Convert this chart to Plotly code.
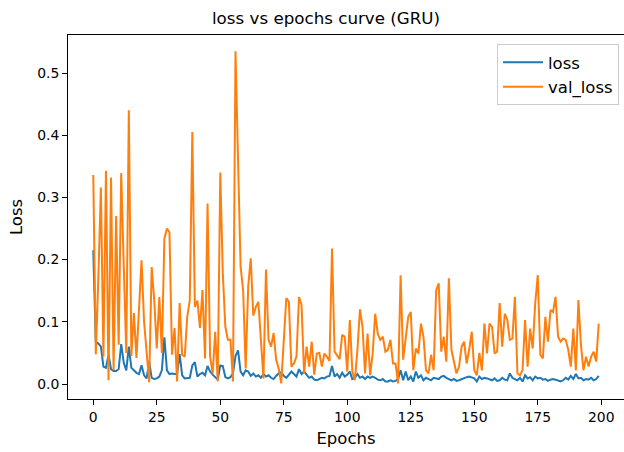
import plotly.graph_objects as go

epochs = list(range(200))

loss = [
    0.215, 0.068, 0.065, 0.060, 0.028, 0.026, 0.047, 0.024, 0.021, 0.021,
    0.024, 0.064, 0.034, 0.022, 0.060, 0.026, 0.022, 0.018, 0.016, 0.030,
    0.014, 0.009, 0.036, 0.010, 0.008, 0.009, 0.012, 0.022, 0.075, 0.022,
    0.016, 0.017, 0.016, 0.016, 0.048, 0.014, 0.009, 0.009, 0.010, 0.030,
    0.035, 0.012, 0.016, 0.018, 0.014, 0.029, 0.020, 0.015, 0.011, 0.007,
    0.030, 0.029, 0.011, 0.009, 0.011, 0.017, 0.045, 0.054, 0.020, 0.014,
    0.022, 0.020, 0.013, 0.017, 0.012, 0.014, 0.010, 0.016, 0.012, 0.014,
    0.010, 0.008, 0.013, 0.017, 0.019, 0.013, 0.010, 0.015, 0.020, 0.016,
    0.012, 0.024, 0.016, 0.020, 0.014, 0.010, 0.012, 0.007, 0.006, 0.008,
    0.010, 0.009, 0.012, 0.013, 0.029, 0.012, 0.016, 0.010, 0.018, 0.012,
    0.015, 0.020, 0.008, 0.010, 0.016, 0.010, 0.012, 0.008, 0.012, 0.010,
    0.012, 0.010, 0.007, 0.006, 0.008, 0.004, 0.004, 0.006, 0.004, 0.005,
    0.008, 0.022, 0.006, 0.020, 0.006, 0.012, 0.004, 0.020, 0.010, 0.014,
    0.006, 0.010, 0.008, 0.006, 0.010, 0.009, 0.008, 0.012, 0.013, 0.010,
    0.008, 0.006, 0.008, 0.005, 0.006, 0.008, 0.010, 0.011, 0.012, 0.010,
    0.009, 0.004, 0.012, 0.008, 0.010, 0.009, 0.008, 0.006, 0.009, 0.005,
    0.006, 0.010, 0.007, 0.006, 0.017, 0.010, 0.008, 0.006, 0.010, 0.004,
    0.014, 0.009, 0.011, 0.006, 0.012, 0.009, 0.010, 0.007, 0.008, 0.005,
    0.007, 0.008, 0.007, 0.005, 0.004, 0.006, 0.010, 0.007, 0.013, 0.008,
    0.016, 0.009, 0.010, 0.006, 0.008, 0.007, 0.010, 0.006, 0.008, 0.013,
]

val_loss = [
    0.336, 0.048, 0.170, 0.316, 0.044, 0.343, 0.006, 0.332, 0.022, 0.270,
    0.063, 0.339, 0.190, 0.050, 0.440, 0.045, 0.114, 0.042, 0.120, 0.199,
    0.100, 0.050, 0.003, 0.188, 0.135, 0.057, 0.140, 0.050, 0.234, 0.250,
    0.244, 0.047, 0.090, 0.004, 0.130, 0.047, 0.044, 0.108, 0.135, 0.405,
    0.124, 0.134, 0.090, 0.151, 0.041, 0.290, 0.044, 0.017, 0.084, 0.004,
    0.340, 0.178, 0.092, 0.071, 0.071, 0.004, 0.535, 0.360, 0.189, 0.151,
    0.025, 0.157, 0.202, 0.110, 0.124, 0.132, 0.070, 0.009, 0.184, 0.071,
    0.060, 0.082, 0.039, 0.025, 0.001, 0.070, 0.138, 0.132, 0.028, 0.033,
    0.044, 0.140, 0.127, 0.017, 0.060, 0.028, 0.068, 0.015, 0.049, 0.050,
    0.028, 0.049, 0.044, 0.037, 0.218, 0.052, 0.046, 0.040, 0.079, 0.076,
    0.020, 0.103, 0.020, 0.006, 0.055, 0.120, 0.092, 0.017, 0.081, 0.014,
    0.049, 0.113, 0.081, 0.071, 0.076, 0.052, 0.055, 0.071, 0.033, 0.033,
    0.001, 0.175, 0.039, 0.076, 0.108, 0.116, 0.022, 0.057, 0.049, 0.097,
    0.076, 0.022, 0.017, 0.047, 0.022, 0.151, 0.162, 0.052, 0.076, 0.036,
    0.170, 0.055, 0.033, 0.017, 0.028, 0.060, 0.068, 0.033, 0.055, 0.084,
    0.022, 0.014, 0.050, 0.022, 0.097, 0.049, 0.097, 0.092, 0.049, 0.052,
    0.130, 0.060, 0.113, 0.103, 0.071, 0.073, 0.140, 0.017, 0.014, 0.022,
    0.103, 0.028, 0.089, 0.057, 0.130, 0.175, 0.047, 0.041, 0.108, 0.068,
    0.119, 0.116, 0.140, 0.076, 0.068, 0.073, 0.071, 0.055, 0.028, 0.089,
    0.022, 0.135, 0.063, 0.022, 0.044, 0.028, 0.044, 0.052, 0.036, 0.097,
]

x_ticks = [0, 25, 50, 75, 100, 125, 150, 175, 200]
y_ticks = [0.0, 0.1, 0.2, 0.3, 0.4, 0.5]
y_tick_labels = ["0.0", "0.1", "0.2", "0.3", "0.4", "0.5"]

FONT = "DejaVu Sans"

fig = go.Figure()
fig.add_trace(go.Scatter(x=epochs, y=loss, mode="lines", name="loss", legendgroup="a",
                         line=dict(color="#1f77b4", width=2)))
fig.add_trace(go.Scatter(x=epochs, y=val_loss, mode="lines", name="val_loss", legendgroup="b",
                         line=dict(color="#ff7f0e", width=2)))

fig.update_layout(
    width=624, height=452,
    margin=dict(l=68, r=0, t=35, b=53),
    paper_bgcolor="white", plot_bgcolor="white",
    font=dict(family=FONT, size=14, color="black"),
    title=dict(text="loss vs epochs curve (GRU)", x=326 / 624, xref="container", xanchor="center",
               y=1 - 18 / 452, yanchor="middle",
               font=dict(family=FONT, size=16.7, color="black")),
    legend=dict(x=1 - 5 / 556, y=1 - 9 / 364, xanchor="right", yanchor="top",
                bgcolor="rgba(255,255,255,0.8)", bordercolor="#cccccc", borderwidth=1,
                traceorder="grouped", tracegroupgap=0, itemwidth=40,
                font=dict(family=FONT, size=16.5, color="black")),
    showlegend=True,
)

fig.update_xaxes(
    range=[-9.95, 208.95], tickmode="array", tickvals=x_ticks,
    ticktext=[str(t) for t in x_ticks],
    showgrid=False, zeroline=False,
    showline=True, linecolor="black", linewidth=1, mirror=True,
    ticks="outside", ticklen=5, tickwidth=1, tickcolor="black",
    tickfont=dict(family=FONT, size=13.9, color="black"),
    title=dict(text="Epochs", standoff=8, font=dict(family=FONT, size=16.5, color="black")),
)
fig.update_yaxes(
    range=[-0.0241, 0.5611], tickmode="array", tickvals=y_ticks, ticktext=y_tick_labels,
    showgrid=False, zeroline=False,
    showline=True, linecolor="black", linewidth=1, mirror=False,
    ticks="outside", ticklen=5, tickwidth=1, tickcolor="black",
    tickfont=dict(family=FONT, size=13.9, color="black"),
    title=dict(text="Loss", standoff=10, font=dict(family=FONT, size=16.5, color="black")),
)

fig.write_html("out.html", config={"displayModeBar": False},
               post_script="document.body.style.margin='0px';")
